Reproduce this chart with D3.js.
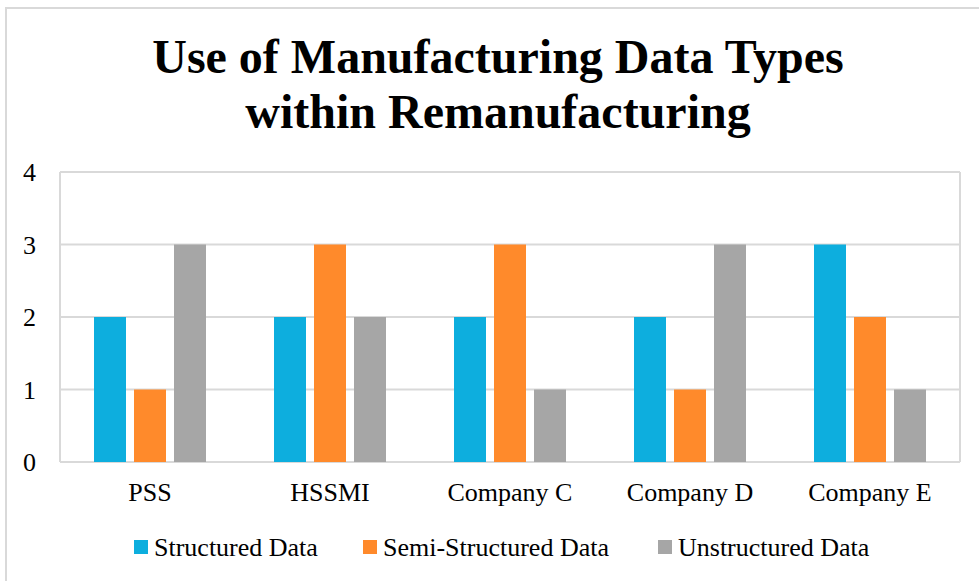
<!DOCTYPE html>
<html>
<head>
<meta charset="utf-8">
<script src="https://cdn.jsdelivr.net/npm/d3@7"></script>
<style>
  body { margin: 0; background: #fff; }
  text { font-family: "Liberation Serif", "Times New Roman", serif; fill: #000; }
</style>
</head>
<body>
<div id="chart"></div>
<script>
const categories = ['PSS', 'HSSMI', 'Company C', 'Company D', 'Company E'];
const seriesNames = ['Structured Data', 'Semi-Structured Data', 'Unstructured Data'];
const structured = [2, 2, 2, 2, 3];
const semiStructured = [1, 3, 3, 1, 2];
const unstructured = [3, 2, 1, 3, 1];
const yTicks = [0, 1, 2, 3, 4];
const titleLines = ['Use of Manufacturing Data Types', 'within Remanufacturing'];

const colors = ['#0DAEDE', '#FF8A2B', '#A6A6A6'];
const allSeries = [structured, semiStructured, unstructured];

const width = 979;
const height = 581;

const svg = d3.select('#chart')
    .append('svg')
    .attr('width', width)
    .attr('height', height);

// outer chart frame (only top/left are visible in the picture)
svg.append('rect')
    .attr('x', 6).attr('y', 8)
    .attr('width', 1200).attr('height', 1200)
    .attr('fill', 'none')
    .attr('stroke', '#d9d9d9')
    .attr('stroke-width', 2);

// title
svg.selectAll('.title')
    .data(titleLines)
    .enter()
    .append('text')
    .attr('class', 'title')
    .attr('x', 498)
    .attr('y', (d, i) => 73 + i * 55)
    .attr('text-anchor', 'middle')
    .style('font-size', '48px')
    .style('font-weight', 'bold')
    .text(d => d);

const x0 = d3.scaleBand()
    .domain(categories)
    .range([60, 960]);

const x1 = d3.scaleBand()
    .domain(seriesNames)
    .range([34, 146])
    .paddingInner(0.2);

const y = d3.scaleLinear()
    .domain([0, 4])
    .range([462, 172]);

// gridlines
svg.selectAll('.grid')
    .data(yTicks)
    .enter()
    .append('line')
    .attr('class', 'grid')
    .attr('x1', 60).attr('x2', 960)
    .attr('y1', d => y(d)).attr('y2', d => y(d))
    .attr('stroke', '#d9d9d9')
    .attr('stroke-width', 2);

// plot area sides
[60, 960].forEach(xx => {
    svg.append('line')
        .attr('x1', xx).attr('x2', xx)
        .attr('y1', y(4)).attr('y2', y(0))
        .attr('stroke', '#d9d9d9')
        .attr('stroke-width', 2);
});

// y labels
svg.selectAll('.ytick')
    .data(yTicks)
    .enter()
    .append('text')
    .attr('class', 'ytick')
    .attr('x', 36)
    .attr('y', d => y(d) + 9)
    .attr('text-anchor', 'end')
    .style('font-size', '26px')
    .text(d => d);

// bars
const groups = svg.selectAll('.group')
    .data(categories)
    .enter()
    .append('g')
    .attr('class', 'group')
    .attr('transform', d => `translate(${x0(d)},0)`);

groups.selectAll('rect')
    .data((d, i) => seriesNames.map((s, j) => ({ series: s, value: allSeries[j][i], j })))
    .enter()
    .append('rect')
    .attr('x', d => x1(d.series))
    .attr('y', d => y(d.value))
    .attr('width', x1.bandwidth())
    .attr('height', d => y(0) - y(d.value))
    .attr('fill', d => colors[d.j]);

// category labels
svg.selectAll('.xtick')
    .data(categories)
    .enter()
    .append('text')
    .attr('class', 'xtick')
    .attr('x', d => x0(d) + x0.bandwidth() / 2)
    .attr('y', 501)
    .attr('text-anchor', 'middle')
    .style('font-size', '26px')
    .text(d => d);

// legend
const legendX = [134, 363, 658];
const legend = svg.selectAll('.legend')
    .data(seriesNames)
    .enter()
    .append('g')
    .attr('class', 'legend')
    .attr('transform', (d, i) => `translate(${legendX[i]},540)`);

legend.append('rect')
    .attr('width', 14)
    .attr('height', 14)
    .attr('fill', (d, i) => colors[i]);

legend.append('text')
    .attr('x', 20)
    .attr('y', 16)
    .style('font-size', '26px')
    .text(d => d);
</script>
</body>
</html>
